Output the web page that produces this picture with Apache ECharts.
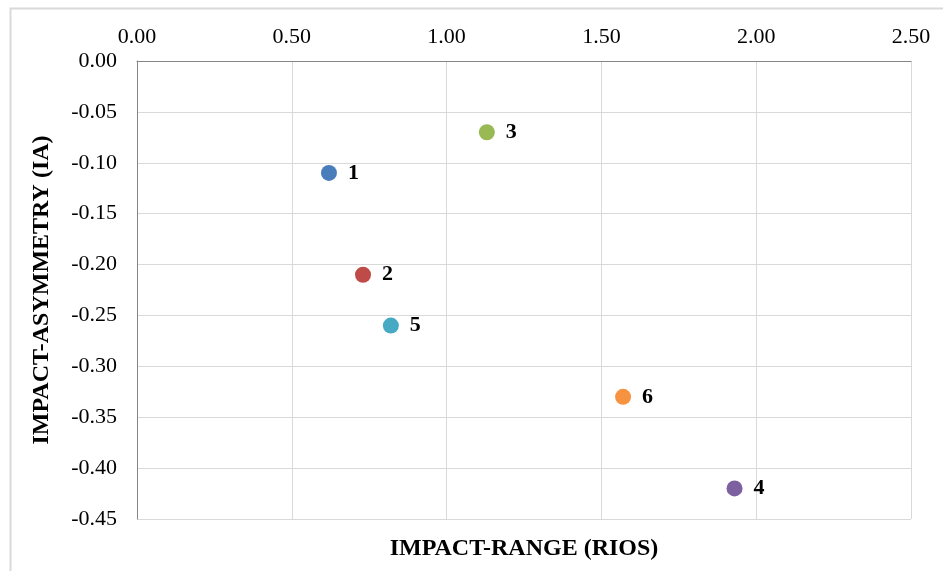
<!DOCTYPE html>
<html>
<head>
<meta charset="utf-8">
<script src="https://cdn.jsdelivr.net/npm/echarts@6/dist/echarts.min.js"></script>
<style>html,body{margin:0;padding:0;background:#fff;}#c{width:943px;height:571px;}</style>
</head>
<body>
<div id="c"></div>
<script>
const pointLabels = ['1', '2', '3', '4', '5', '6'];
const impactRange = [0.62, 0.73, 1.13, 1.93, 0.82, 1.57];
const impactAsymmetry = [-0.11, -0.21, -0.07, -0.42, -0.26, -0.33];
const pointColors = ['#4A7EBB', '#BE4B48', '#98B954', '#7D60A0', '#46AAC5', '#F69240'];

const chart = echarts.init(document.getElementById('c'));
const font = '"Liberation Serif", "Times New Roman", serif';
chart.setOption({
  animation: false,
  backgroundColor: '#fff',
  grid: { left: 137, top: 61, right: 32, bottom: 52, containLabel: false },
  xAxis: {
    type: 'value', position: 'top', min: 0, max: 2.5, interval: 0.5,
    axisLine: { show: true, onZero: false, lineStyle: { color: '#868686', width: 1 } },
    axisTick: { show: false },
    splitLine: { show: true, lineStyle: { color: '#d9d9d9', width: 1 } },
    axisLabel: { color: '#000', fontFamily: font, fontSize: 22, margin: 13, formatter: v => v.toFixed(2) }
  },
  yAxis: {
    type: 'value', min: -0.45, max: 0, interval: 0.05,
    axisLine: { show: true, onZero: false, lineStyle: { color: '#868686', width: 1 } },
    axisTick: { show: false },
    splitLine: { show: true, lineStyle: { color: '#d9d9d9', width: 1 } },
    axisLabel: { color: '#000', fontFamily: font, fontSize: 22, margin: 20, formatter: v => v.toFixed(2) }
  },
  graphic: [
    { type: 'rect', shape: { x: 10.5, y: 8.5, width: 1000, height: 700 }, style: { fill: 'none', stroke: '#d9d9d9', lineWidth: 2 }, z: -1 },
    { type: 'text', x: 524, y: 549, style: { text: 'IMPACT-RANGE (RIOS)', font: 'bold 24px ' + font, fill: '#000', align: 'center', verticalAlign: 'middle' } },
    { type: 'text', x: 42, y: 290, rotation: Math.PI / 2, style: { text: 'IMPACT-ASYMMETRY (IA)', font: 'bold 24px ' + font, fill: '#000', align: 'center', verticalAlign: 'middle' } }
  ],
  series: [{
    type: 'scatter',
    symbol: 'circle',
    symbolSize: 16,
    data: impactRange.map((x, i) => ({
      value: [x, impactAsymmetry[i]],
      name: pointLabels[i],
      itemStyle: { color: pointColors[i], opacity: 1 }
    })),
    label: {
      show: true, position: 'right', distance: 11,
      formatter: p => p.name,
      color: '#000', fontFamily: font, fontWeight: 'bold', fontSize: 22
    }
  }]
});
</script>
</body>
</html>
